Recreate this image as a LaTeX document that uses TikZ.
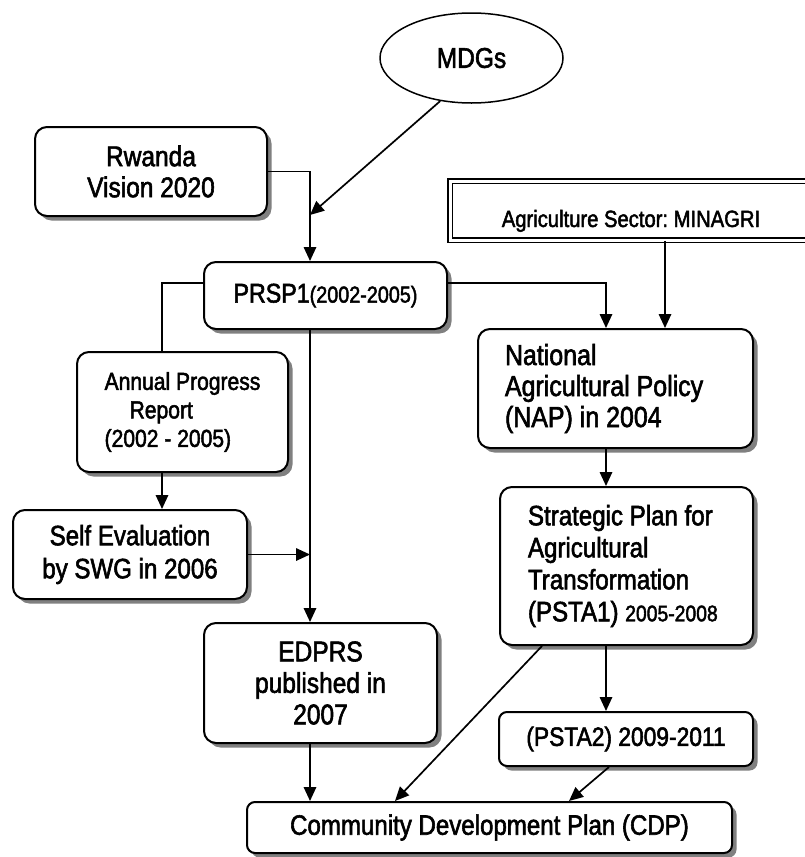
\documentclass[tikz,border=0pt]{standalone}
\usepackage{fontspec}
\setmainfont[FakeStretch=0.86, FakeBold=2]{Liberation Sans}
\usetikzlibrary{arrows.meta,shapes.geometric,shadows,calc}

\begin{document}
\frenchspacing
\begin{tikzpicture}[x=1pt,y=-1pt,
  fs/.style 2 args={font=\frenchspacing\fontsize{#1}{#2}\selectfont},
  box/.style={draw, line width=2pt, rounded corners=12pt, fill=white,
    inner sep=0pt, align=center,
    drop shadow={shadow xshift=4.5pt, shadow yshift=-4.5pt, fill=black!50, opacity=1}},
  smallbox/.style={box, rounded corners=8pt},
  leftbox/.style={box, align=left, text width=#1,
    execute at begin node={\spaceskip=0pt\xspaceskip=0pt}},
  link/.style={line width=1.7pt},
  arr/.style={link, -{Triangle[length=14pt,width=12.5pt]}}
]
\useasboundingbox (0,0) rectangle (805,857);
\clip (0,0) rectangle (805,857);

% helper positions
\coordinate (spine) at (310,0);
\coordinate (mj) at (310,215);

% goals and sector
\node[draw, ellipse, line width=1.5pt, minimum width=183pt, minimum height=90pt,
      inner sep=0pt, fs={28.5}{32}] (mdg) at (471.5,58) {MDGs};
\node[draw, double, double distance=3pt, line width=1.7pt, inner sep=0pt,
      minimum width=400pt, minimum height=59pt] (agri) at (650,210.5) {};
\node[anchor=base, fs={23.5}{27}] (agrit) at (631,227) {Agriculture Sector: MINAGRI};

% left column
\node[box, minimum width=232pt, minimum height=89pt, fs={28.5}{31}] (rw) at (151,171.5)
  {Rwanda\\Vision 2020};
\node[box, minimum width=243pt, minimum height=67pt, fs={27}{31}] (prsp) at (325.5,295.5)
  {PRSP1{\fontsize{23}{27}\selectfont(2002-2005)}};
\node[box, minimum width=211pt, minimum height=120pt, fs={24.5}{28.5}, align=left] (ann) at (182.5,412)
  {Annual Progress\\\hspace*{25pt}Report\\(2002 - 2005)};
\node[box, minimum width=234pt, minimum height=89pt, fs={28}{33}] (self) at (130,554.5)
  {Self Evaluation\\by SWG in 2006};
\node[box, minimum width=233pt, minimum height=120pt, fs={28.5}{31.5}] (edprs) at (320.5,683)
  {EDPRS\\published in\\2007};

% right column
\node[leftbox=221pt, minimum width=275pt, minimum height=119pt, fs={29}{31}] (nap) at (615.5,388.5)
  {National\\Agricultural Policy\\(NAP) in 2004};
\node[leftbox=197pt, minimum width=253pt, minimum height=158pt, fs={28}{32}] (strat) at (626.5,566)
  {Strategic Plan for\\Agricultural\\Transformation\\(PSTA1) {\fontsize{22.5}{26}\selectfont 2005-2008}};
\node[smallbox, minimum width=254pt, minimum height=54pt, fs={26.5}{30}] (psta) at (626,739)
  {(PSTA2) 2009-2011};

% bottom
\node[smallbox, minimum width=485pt, minimum height=51pt, fs={28}{31}] (cdp) at (489.5,827.5)
  {Community Development Plan (CDP)};

% connectors
\draw[arr] (rw.east) -| (prsp.north -| spine);
\draw[arr] (mdg.234) -- (mj);
\draw[arr] ([yshift=12.5pt]prsp.east) -| ([xshift=-9.5pt]nap.north);
\draw[arr] ([xshift=49.5pt]nap.north |- agri.south) -- ([xshift=49.5pt]nap.north);
\draw[link] ([yshift=12.5pt]prsp.west) -| ([xshift=-20.5pt]ann.north);
\draw[arr] ([xshift=-20.5pt]ann.south) -- ([xshift=-20.5pt]ann.south |- self.north);
\draw[arr] (prsp.south -| spine) -- (edprs.north -| spine);
\draw[arr] (self.east) -- (self.east -| spine);
\draw[arr] (edprs.south -| spine) -- (cdp.north -| spine);
\draw[arr] ([xshift=-9.5pt]nap.south) -- ([xshift=-9.5pt]nap.south |- strat.north);
\draw[arr] ([xshift=-20.5pt]strat.south) -- ([xshift=-20.5pt]strat.south |- psta.north);
\draw[arr] ([xshift=-84.5pt]strat.south) -- ([xshift=-94.5pt]cdp.north);
\draw[arr] ([xshift=-17pt]psta.south) -- ([xshift=79.5pt]cdp.north);
\end{tikzpicture}
\end{document}
